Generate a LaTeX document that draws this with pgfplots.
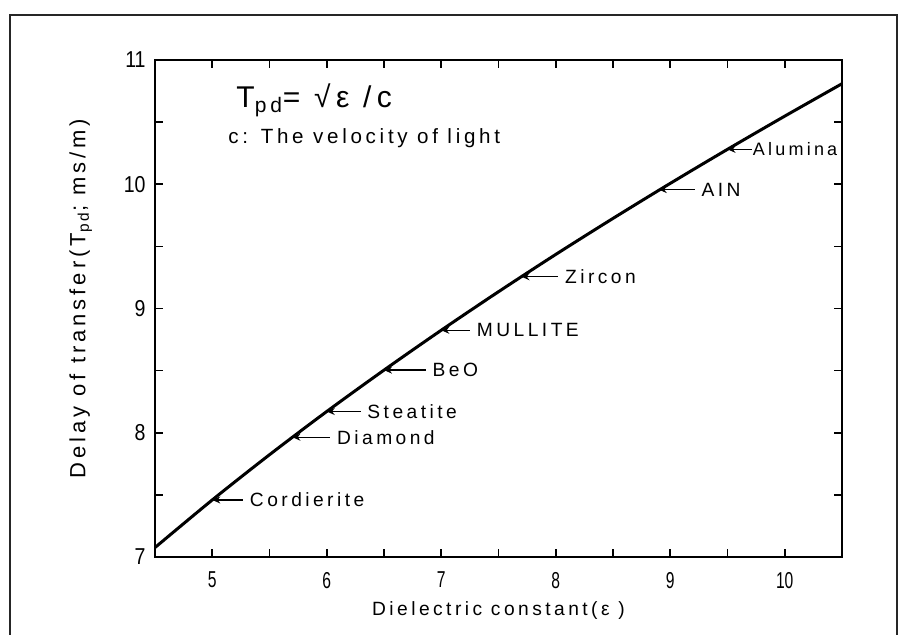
\documentclass[border=0pt]{standalone}
\usepackage{fontspec}
\setmainfont{Liberation Sans}[LetterSpace=18]
\newfontfamily\tickfont{Liberation Sans}
\usepackage{pgfplots}
\pgfplotsset{compat=1.18}
\usetikzlibrary{arrows.meta}

\begin{document}
\begin{tikzpicture}[x=1pt,y=1pt]
\useasboundingbox (0,0) rectangle (450,317.5);
\draw[line width=0.8pt, black!85] (5,-2) -- (5,310) -- (448.5,310) -- (448.5,-2);
\begin{axis}[
  at={(77.5pt,39pt)}, anchor=south west,
  scale only axis, width=343.5pt, height=248.5pt,
  xmin=4.5, xmax=10.5, ymin=7, ymax=11,
  xtick={5,6,7,8,9,10}, ytick={7,8,9,10,11},
  minor xtick={5.5,6.5,7.5,8.5,9.5},
  minor ytick={7.5,8.5,9.5,10.5},
  tick align=inside, major tick length=4pt, minor tick length=4pt,
  axis line style={line width=0.8pt},
  every tick/.style={black, line width=0.8pt},
  /pgf/number format/assume math mode=true,
  tick label style={font=\tickfont\fontsize{11.5}{13}\selectfont},
  xticklabel style={xscale=0.68, yshift=-4pt},
  yticklabel style={xscale=0.85, xshift=-2pt},
  xlabel={Dielectric constant(ε )},
  ylabel={Delay of transfer(T\textsubscript{pd}; ms/m)},
  xlabel style={font=\fontsize{9.6}{11}\selectfont},
  ylabel style={font=\fontsize{11}{12}\selectfont, at={(axis description cs:-0.108,0.52)}, anchor=center},
]
\addplot[line width=1.5pt, smooth, black] coordinates {
(4.5,7.076) (5.0,7.459) (5.5,7.823) (6.0,8.171) (6.5,8.504) (7.0,8.825)
(7.5,9.135) (8.0,9.435) (8.5,9.725) (9.0,10.007) (9.5,10.281) (10.0,10.548) (10.5,10.809)
};
\tikzset{lbl/.style={right, inner sep=3pt, font=\fontsize{9.6}{11}\selectfont}}
\tikzset{arr/.style={{Stealth[length=4pt,width=3.5pt]}-, line width=0.7pt}}
\draw[arr] (axis cs:5.0,7.459) -- ++(15.5pt,0pt) node[lbl]{Cordierite};
\draw[arr] (axis cs:5.7,7.964) -- ++(19pt,0pt) node[lbl]{Diamond};
\draw[arr] (axis cs:6.0,8.171) -- ++(17pt,0pt) node[lbl]{Steatite};
\draw[arr] (axis cs:6.5,8.504) -- ++(21pt,0pt) node[lbl]{BeO};
\draw[arr] (axis cs:7.0,8.825) -- ++(14.5pt,0pt) node[lbl]{MULLITE};
\draw[arr] (axis cs:7.7,9.256) -- ++(18.5pt,0pt) node[lbl]{Zircon};
\draw[arr] (axis cs:8.9,9.957) -- ++(18pt,0pt) node[lbl]{AIN};
\draw[arr] (axis cs:9.5,10.281) -- ++(12pt,0pt) node[lbl, inner sep=0.3pt, font=\fontsize{9}{11}\selectfont]{Alumina};
\node[anchor=base west, font=\fontsize{15}{17}\selectfont] at (axis cs:5.15,10.62) {T\textsubscript{pd}= √ε /c};
\node[anchor=base west, font=\fontsize{10.3}{12}\selectfont] at (axis cs:5.08,10.33) {c: The velocity of light};
\end{axis}
\end{tikzpicture}
\end{document}
